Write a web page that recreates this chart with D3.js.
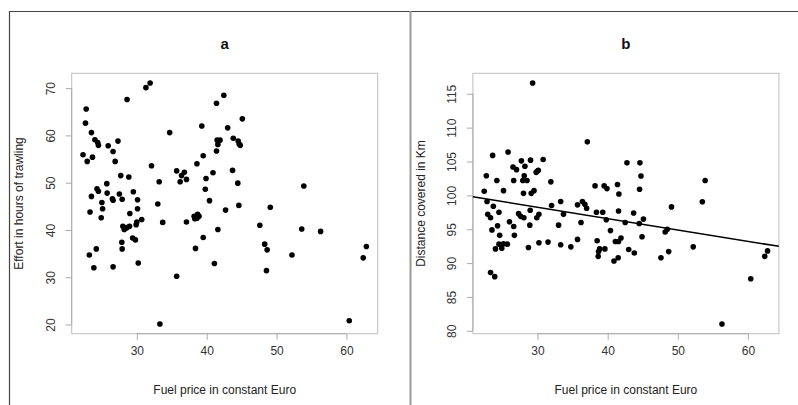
<!DOCTYPE html>
<html lang="en">
<head>
  <meta charset="UTF-8">
  <title>Fuel price scatter</title>
  <script src="https://d3js.org/d3.v7.min.js"></script>
  <style>
    * { margin: 0; padding: 0; box-sizing: border-box; }
    body { background: #fff; font-family: "Liberation Sans", Arial, sans-serif; }
  </style>
</head>
<body>
  <div id="chart"></div>
  <script>
    // panel a : effort vs fuel price
    const fuelA = [22.3, 22.75, 22.65, 22.9, 23.5, 23.65, 23.5, 23.3, 23.2, 23.85,
      24.0, 24.4, 24.5, 24.3, 24.5, 24.2, 24.9, 25.0, 25.1, 25.7,
      25.75, 25.9, 26.6, 26.5, 26.6, 26.9, 26.6, 27.3, 27.5, 27.7,
      27.9, 28.0, 28.2, 28.4, 27.85, 27.9, 28.6, 28.85, 29.0, 28.95,
      28.6, 29.5, 29.4, 29.8, 29.9, 30.0, 30.1, 30.1, 30.2, 30.7,
      31.3, 31.9, 32.1, 33.0, 33.2, 33.3, 33.7, 34.7, 35.7, 35.7,
      36.2, 36.4, 36.8, 37.1, 37.1, 38.4, 38.6, 38.2, 38.3, 38.7,
      38.9, 38.6, 39.3, 39.5, 39.5, 39.9, 39.8, 40.4, 40.9, 41.1,
      41.4, 41.4, 41.6, 41.5, 41.9, 41.6, 42.45, 42.7, 43.0, 43.7,
      43.8, 44.5, 44.65, 44.8, 44.45, 44.6, 45.1, 47.6, 48.3, 48.65,
      48.55, 49.1, 52.2, 53.6, 53.9, 56.3, 60.4, 62.4, 62.85];
    const effort = [55.9, 65.6, 62.6, 54.5, 60.6, 55.4, 47.1, 43.8, 34.7, 32.0,
      59.1, 58.5, 57.9, 48.7, 48.2, 36.0, 42.6, 45.8, 44.5, 49.8,
      47.8, 57.8, 56.6, 46.6, 46.3, 54.5, 32.2, 58.8, 47.6, 51.5,
      46.5, 40.8, 40.1, 40.4, 37.4, 36.0, 67.6, 51.2, 43.5, 40.8,
      40.5, 48.1, 38.3, 37.9, 41.1, 41.7, 46.4, 44.5, 33.0, 42.2,
      70.1, 71.1, 53.6, 45.5, 50.2, 20.1, 41.6, 60.6, 52.5, 30.2,
      50.2, 51.5, 52.2, 50.7, 41.7, 36.1, 54.0, 42.9, 42.4, 43.3,
      42.9, 42.5, 62.0, 55.7, 38.4, 50.9, 48.6, 46.2, 52.1, 32.9,
      66.8, 56.7, 58.1, 59.0, 59.0, 40.1, 68.5, 44.2, 61.6, 52.6,
      59.4, 58.8, 58.2, 57.9, 49.9, 45.2, 63.5, 41.0, 37.0, 35.8,
      31.4, 44.8, 34.7, 40.2, 49.3, 39.7, 20.8, 34.1, 36.5];

    // panel b : distance vs fuel price
    const fuelB = [22.4, 22.7, 22.8, 22.9, 23.3, 23.6, 23.5, 23.3, 23.9, 23.7,
      24.0, 24.2, 24.3, 24.5, 24.6, 24.5, 24.9, 25.15, 25.15, 25.7,
      25.8, 26.0, 26.5, 26.6, 26.6, 26.7, 27.0, 27.3, 27.6, 27.7,
      27.9, 28.0, 28.05, 28.1, 28.2, 28.5, 28.7, 29.0, 28.95, 28.9,
      29.1, 29.3, 29.5, 29.8, 30.0, 30.1, 29.9, 30.2, 30.2, 30.8,
      31.5, 31.9, 32.0, 33.3, 33.0, 33.3, 33.7, 34.75, 35.7, 35.7,
      36.2, 36.4, 36.75, 37.0, 37.1, 38.2, 38.4, 38.5, 38.7, 38.65,
      38.85, 39.3, 39.6, 39.5, 39.9, 39.8, 40.4, 40.9, 41.1, 41.4,
      41.6, 41.55, 41.55, 41.9, 41.5, 42.5, 42.75, 43.0, 43.7, 43.8,
      44.5, 44.6, 44.75, 44.55, 45.1, 44.9, 47.6, 48.2, 48.5, 48.7,
      49.1, 52.2, 53.5, 53.9, 56.3, 60.4, 62.4, 62.8];
    const distance = [100.6, 102.9, 99.1, 97.2, 96.7, 105.9, 94.9, 88.6, 88.0, 98.4,
      92.1, 102.2, 95.5, 97.5, 94.1, 92.8, 92.2, 100.7, 92.85, 92.8,
      106.4, 96.1, 104.2, 102.2, 95.4, 94.1, 103.8, 97.3, 96.9, 105.1,
      102.2, 100.3, 96.7, 102.9, 104.3, 102.2, 92.3, 105.2, 97.8, 95.6,
      100.3, 116.6, 100.7, 103.4, 103.6, 103.7, 96.7, 97.2, 93.0, 105.3,
      93.1, 102.0, 98.5, 99.1, 95.6, 92.7, 97.2, 92.4, 93.5, 98.6,
      96.0, 99.1, 98.7, 98.1, 107.9, 101.4, 97.5, 93.3, 91.7, 91.0,
      92.1, 97.5, 92.1, 101.4, 101.0, 96.4, 94.8, 90.3, 93.2, 101.6,
      100.2, 97.7, 93.2, 93.7, 90.8, 96.0, 104.8, 92.0, 97.4, 91.5,
      95.85, 104.8, 102.85, 100.9, 96.5, 93.9, 90.8, 94.6, 95.0, 91.7,
      98.3, 92.4, 99.05, 102.2, 81.0, 87.7, 91.0, 91.8];

    // fitted line for panel b
    const fitIntercept = 103.28;
    const fitSlope = -0.1678;

    const xTicks = [30, 40, 50, 60];
    const yTicksA = [20, 30, 40, 50, 60, 70];
    const yTicksB = [80, 85, 90, 95, 100, 105, 110, 115];

    const W = 798, H = 405;
    const svg = d3.select("#chart")
                  .append("svg")
                  .attr("width", W)
                  .attr("height", H);

    // figure frame
    svg.append("line").attr("x1", 9).attr("x2", W).attr("y1", 11.5).attr("y2", 11.5)
       .attr("stroke", "#444").attr("stroke-width", 1.2);
    svg.append("line").attr("x1", 9.5).attr("x2", 9.5).attr("y1", 11).attr("y2", H)
       .attr("stroke", "#444").attr("stroke-width", 1.2);
    svg.append("line").attr("x1", 410.5).attr("x2", 410.5).attr("y1", 11).attr("y2", H)
       .attr("stroke", "#999").attr("stroke-width", 2);

    // R style range: data extent +/- 4%
    function rDomain(v) {
      const [lo, hi] = d3.extent(v);
      const pad = (hi - lo) * 0.04;
      return [lo - pad, hi + pad];
    }

    function drawPanel(left, xs, ys, yTicks, title, yTitle, fit) {
      const plot = {left: left, top: 73.3, width: 306, height: 260.4};

      const x = d3.scaleLinear().domain(rDomain(xs)).range([plot.left, plot.left + plot.width]);
      const y = d3.scaleLinear().domain(rDomain(ys)).range([plot.top + plot.height, plot.top]);

      const g = svg.append("g");

      g.append("rect")
       .attr("x", plot.left)
       .attr("y", plot.top)
       .attr("width", plot.width)
       .attr("height", plot.height)
       .attr("fill", "none")
       .attr("stroke", "#bdbdbd")
       .attr("stroke-width", 1);

      // x axis
      const xAxis = g.append("g")
                     .attr("transform", `translate(0, ${plot.top + plot.height})`)
                     .call(d3.axisBottom(x)
                             .tickValues(xTicks)
                             .tickSize(6)
                             .tickSizeOuter(0));
      xAxis.select(".domain").remove();
      xAxis.append("line")
           .attr("x1", x(xTicks[0])).attr("x2", x(xTicks[xTicks.length - 1]))
           .attr("stroke", "#aaa");
      xAxis.selectAll(".tick line").attr("stroke", "#aaa");
      xAxis.selectAll(".tick text")
           .attr("y", 21.5)
           .attr("dy", 0)
           .style("font-size", "12px")
           .style("font-family", "'Liberation Sans', Arial, sans-serif")
           .attr("fill", "#333");

      // y axis
      const yAxis = g.append("g")
                     .attr("transform", `translate(${plot.left}, 0)`)
                     .call(d3.axisLeft(y)
                             .tickValues(yTicks)
                             .tickSize(6)
                             .tickSizeOuter(0));
      yAxis.select(".domain").remove();
      yAxis.append("line")
           .attr("y1", y(yTicks[0])).attr("y2", y(yTicks[yTicks.length - 1]))
           .attr("stroke", "#aaa");
      yAxis.selectAll(".tick line").attr("stroke", "#aaa");
      yAxis.selectAll(".tick text")
           .attr("transform", "rotate(-90)")
           .attr("x", 0)
           .attr("y", -16.5)
           .attr("dy", 0)
           .attr("text-anchor", "middle")
           .style("font-size", "12px")
           .style("font-family", "'Liberation Sans', Arial, sans-serif")
           .attr("fill", "#333");

      // titles
      g.append("text")
       .attr("x", plot.left + plot.width / 2)
       .attr("y", 48.5)
       .attr("text-anchor", "middle")
       .style("font-size", "15px")
       .style("font-weight", "bold")
       .attr("fill", "#111")
       .text(title);

      g.append("text")
       .attr("x", plot.left + plot.width / 2)
       .attr("y", 394)
       .attr("text-anchor", "middle")
       .style("font-size", "12px")
       .attr("fill", "#222")
       .text("Fuel price in constant Euro");

      g.append("text")
       .attr("transform", `translate(${plot.left - 48.3}, ${plot.top + plot.height / 2}) rotate(-90)`)
       .attr("text-anchor", "middle")
       .style("font-size", "12px")
       .attr("fill", "#222")
       .text(yTitle);

      // points
      g.selectAll(".dot")
       .data(d3.zip(xs, ys))
       .enter()
       .append("circle")
       .attr("class", "dot")
       .attr("cx", d => x(d[0]))
       .attr("cy", d => y(d[1]))
       .attr("r", 2.8)
       .attr("fill", "#000");

      if (fit) {
        const [x0, x1] = x.domain();
        g.append("line")
         .attr("x1", x(x0)).attr("y1", y(fit.a + fit.b * x0))
         .attr("x2", x(x1)).attr("y2", y(fit.a + fit.b * x1))
         .attr("stroke", "#000")
         .attr("stroke-width", 1.5);
      }
    }

    drawPanel(71.7, fuelA, effort, yTicksA, "a", "Effort in hours of trawling", null);
    drawPanel(472.9, fuelB, distance, yTicksB, "b", "Distance covered in Km",
              {a: fitIntercept, b: fitSlope});
  </script>
</body>
</html>
